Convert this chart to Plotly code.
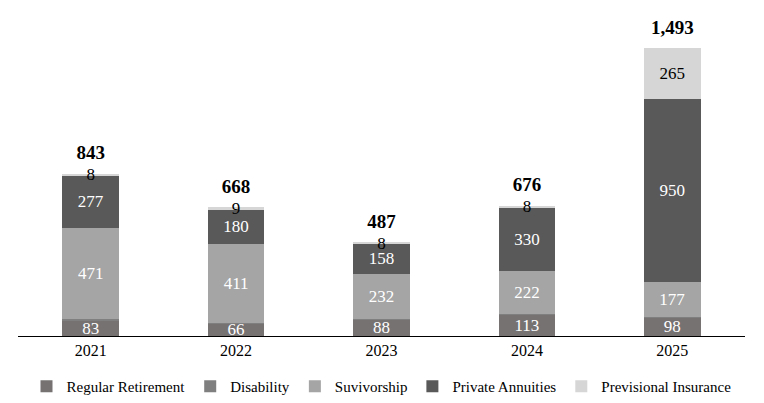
import plotly.graph_objects as go

years = ["2021", "2022", "2023", "2024", "2025"]
regular = [83, 66, 88, 113, 98]
disability = [4, 2, 1, 3, 3]
survivorship = [471, 411, 232, 222, 177]
private = [277, 180, 158, 330, 950]
previsional = [8, 9, 8, 8, 265]

series = [
    ("Regular Retirement", regular, "#767272", "white", True),
    ("Disability", disability, "#7f7f7f", "white", False),
    ("Suvivorship", survivorship, "#a5a5a5", "white", True),
    ("Private Annuities", private, "#595959", "white", True),
    ("Previsional Insurance", previsional, "#d6d6d6", "black", True),
]

font = "Liberation Serif"

fig = go.Figure()
for name, vals, color, tcolor, show in series:
    fig.add_trace(go.Bar(
        name=name, x=years, y=vals, marker_color=color, marker_line_width=0,
        text=[f"{v:,}" for v in vals] if show else None,
        textposition="inside", insidetextanchor="middle", textangle=0,
        textfont=dict(color=tcolor, size=17, family=font),
        hoverinfo="skip",
    ))

totals = [sum(t) for t in zip(regular, disability, survivorship, private, previsional)]
# invisible markers push the total labels up a little above the bars
fig.add_trace(go.Scatter(
    x=years, y=totals, mode="markers+text", text=[f"<b>{t:,}</b>" for t in totals],
    marker=dict(size=14, opacity=0),
    textposition="top center", textfont=dict(size=19, color="black", family=font),
    showlegend=False, hoverinfo="skip",
))

# page body adds an 8px offset, so the figure is sized to fit inside it
fig.update_layout(
    barmode="stack", bargap=0.61,
    width=748, height=395,
    margin=dict(l=10, r=11, t=12, b=67, autoexpand=False),
    plot_bgcolor="white", paper_bgcolor="white",
    font=dict(family=font, size=16, color="black"),
    uniformtext=dict(minsize=17, mode="show"),
    legend=dict(orientation="h", x=0.5, xanchor="center", y=-0.16, yanchor="middle",
                traceorder="normal", font=dict(size=15, family=font, color="black"),
                itemwidth=30, tracegroupgap=0),
)
fig.update_xaxes(type="category", showline=True, linecolor="black", linewidth=1,
                 ticks="", tickfont=dict(size=16, family=font, color="black"))
fig.update_yaxes(visible=False, range=[0, 1640])

fig.write_html("out.html")
